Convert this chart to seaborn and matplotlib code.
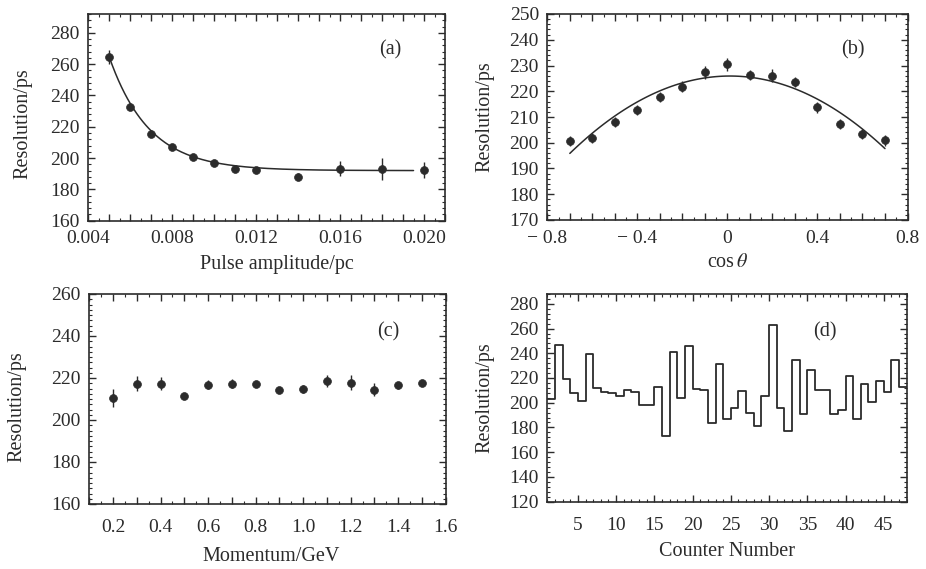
import numpy as np
import pandas as pd
import matplotlib
matplotlib.use("Agg")
import matplotlib.pyplot as plt
from matplotlib.ticker import MultipleLocator, FuncFormatter
import seaborn as sns

# ---------------- data ----------------
# (a) resolution vs pulse amplitude
amp_x = [0.005, 0.006, 0.007, 0.008, 0.009, 0.010, 0.011, 0.012, 0.014, 0.016, 0.018, 0.020]
amp_res = [264.5, 232.3, 215.5, 207.3, 200.9, 196.8, 193.3, 192.3, 188.2, 193.3, 193.3, 192.3]
amp_err = [4.5, 1.5, 1.2, 1.2, 1.2, 1.2, 1.2, 1.2, 2.0, 5.0, 7.0, 5.0]
# fitted curve (exponential + constant), parameters
amp_fit_const = 192.0
amp_fit_amp = 72.5
amp_fit_tau = 0.0019
amp_fit_x0 = 0.005
amp_fit_range = [0.005, 0.0195]

# (b) resolution vs cos(theta)
cos_x = [-0.7, -0.6, -0.5, -0.4, -0.3, -0.2, -0.1, 0.0, 0.1, 0.2, 0.3, 0.4, 0.5, 0.6, 0.7]
cos_res = [200.6, 201.9, 208.1, 212.8, 217.7, 221.8, 227.3, 230.4, 226.4, 226.0, 223.7, 213.7, 207.4, 203.5, 200.9]
cos_err = [2.0, 2.0, 2.0, 2.0, 2.0, 2.0, 2.5, 2.5, 2.0, 2.5, 2.0, 2.0, 2.0, 2.0, 2.0]

# (c) resolution vs momentum
mom_x = [0.2, 0.3, 0.4, 0.5, 0.6, 0.7, 0.8, 0.9, 1.0, 1.1, 1.2, 1.3, 1.4, 1.5]
mom_res = [210.5, 217.3, 217.3, 211.3, 216.9, 217.3, 217.1, 214.4, 214.8, 218.5, 217.7, 214.4, 216.5, 217.7]
mom_err = [4.5, 3.5, 3.0, 1.5, 2.0, 2.0, 1.5, 1.5, 2.0, 3.0, 3.5, 3.0, 1.5, 1.5]

# (d) resolution per counter
counter = list(range(1, 48))
counter_res = [203.0, 246.6, 218.8, 207.9, 201.6, 239.8, 212.0, 208.4, 207.5, 205.3,
               210.3, 208.9, 198.0, 198.0, 212.5, 173.4, 241.1, 203.8, 245.8, 211.1,
               210.6, 183.3, 231.6, 186.6, 196.1, 209.8, 192.0, 181.1, 205.7, 263.0,
               196.1, 177.0, 234.3, 191.2, 226.7, 210.3, 210.3, 190.6, 193.9, 221.5,
               186.6, 215.2, 200.2, 217.4, 208.4, 234.9, 213.0]

# ---------------- style ----------------
sns.set_theme(style="ticks")
ink = "#2b2b2b"
plt.rcParams.update({
    "font.family": ["Liberation Serif", "DejaVu Serif"],
    "mathtext.fontset": "stix",
    "font.size": 14,
    "text.color": ink,
    "axes.labelcolor": ink,
    "axes.edgecolor": ink,
    "axes.linewidth": 1.2,
    "xtick.color": ink,
    "ytick.color": ink,
    "xtick.labelsize": 14,
    "ytick.labelsize": 14,
    "xtick.direction": "in",
    "ytick.direction": "in",
    "xtick.top": True,
    "ytick.right": True,
    "xtick.major.size": 5,
    "ytick.major.size": 5,
    "xtick.minor.size": 2.5,
    "ytick.minor.size": 2.5,
    "xtick.major.width": 1.0,
    "ytick.major.width": 1.0,
    "xtick.minor.width": 0.8,
    "ytick.minor.width": 0.8,
    "axes.facecolor": "white",
    "figure.facecolor": "white",
})

fig = plt.figure(figsize=(9.26, 5.69), dpi=100)
W, H = 926.0, 569.0


def make_ax(l, r, t, b):
    return fig.add_axes([l / W, 1 - b / H, (r - l) / W, (b - t) / H])


ax_a = make_ax(88.3, 445.0, 14.0, 220.7)
ax_b = make_ax(547.3, 907.5, 14.0, 220.0)
ax_c = make_ax(89.3, 445.7, 294.0, 504.0)
ax_d = make_ax(547.3, 906.7, 294.0, 501.5)


def points(ax, x, y, err):
    ax.errorbar(x, y, yerr=err, fmt="none", ecolor=ink, elinewidth=1.0, capsize=0, zorder=2)
    sns.scatterplot(x=x, y=y, ax=ax, color=ink, s=32, edgecolor=ink, linewidth=0.5, zorder=3)


def finish(ax, xlabel, xlab_xy, ylab_xy, tag, tag_xy):
    ax.set_xlabel(xlabel, fontsize=14.5)
    ax.set_ylabel("Resolution/ps", fontsize=14.5)
    ax.xaxis.label.set_va("center")
    ax.yaxis.label.set_va("center")
    ax.xaxis.set_label_coords(*xlab_xy)
    ax.yaxis.set_label_coords(*ylab_xy)
    ax.text(tag_xy[0], tag_xy[1], tag, transform=ax.transAxes, ha="center", va="center", fontsize=14.5)
    ax.tick_params(which="both", top=True, right=True)
    ax.tick_params(axis="x", which="major", pad=7)
    ax.tick_params(axis="y", which="major", pad=6)
    for s in ax.spines.values():
        s.set_visible(True)


# ---- (a)
points(ax_a, amp_x, amp_res, amp_err)
fx = np.linspace(amp_fit_range[0], amp_fit_range[1], 300)
fy = amp_fit_const + amp_fit_amp * np.exp(-(fx - amp_fit_x0) / amp_fit_tau)
sns.lineplot(x=fx, y=fy, ax=ax_a, color=ink, linewidth=1.1, zorder=2)
ax_a.set_xlim(0.004, 0.021)
ax_a.set_ylim(160, 292)
ax_a.xaxis.set_major_locator(MultipleLocator(0.001))
ax_a.xaxis.set_minor_locator(MultipleLocator(0.0005))
ax_a.xaxis.set_major_formatter(FuncFormatter(
    lambda v, p: f"{v:.3f}" if abs(v / 0.004 - round(v / 0.004)) < 1e-6 else ""))
ax_a.yaxis.set_major_locator(MultipleLocator(20))
ax_a.yaxis.set_minor_locator(MultipleLocator(4))
finish(ax_a, "Pulse amplitude/pc", (0.529, -0.214), (-0.183, 0.47), "(a)", (0.846, 0.826))

# ---- (b)
sns.regplot(x=cos_x, y=cos_res, order=2, ci=None, scatter=False, ax=ax_b,
            line_kws={"color": ink, "linewidth": 1.1, "zorder": 2})
points(ax_b, cos_x, cos_res, cos_err)
ax_b.set_xlim(-0.8, 0.8)
ax_b.set_ylim(170, 250)
ax_b.xaxis.set_major_locator(MultipleLocator(0.1))
ax_b.xaxis.set_minor_locator(MultipleLocator(0.05))


def fmt_b(v, p):
    if abs(v / 0.4 - round(v / 0.4)) > 1e-6:
        return ""
    if abs(v) < 1e-9:
        return "0"
    return ("\u2212 " if v < 0 else "") + f"{abs(v):.1f}"


ax_b.xaxis.set_major_formatter(FuncFormatter(fmt_b))
ax_b.yaxis.set_major_locator(MultipleLocator(10))
ax_b.yaxis.set_minor_locator(MultipleLocator(2))
finish(ax_b, r"cos$\,\theta$", (0.501, -0.204), (-0.173, 0.5), "(b)", (0.848, 0.825))

# ---- (c)
points(ax_c, mom_x, mom_res, mom_err)
ax_c.set_xlim(0.1, 1.6)
ax_c.set_ylim(160, 260)
ax_c.xaxis.set_major_locator(MultipleLocator(0.1))
ax_c.xaxis.set_minor_locator(MultipleLocator(0.05))
ax_c.xaxis.set_major_formatter(FuncFormatter(
    lambda v, p: f"{v:.1f}" if abs(v / 0.2 - round(v / 0.2)) < 1e-6 else ""))
ax_c.yaxis.set_major_locator(MultipleLocator(20))
ax_c.yaxis.set_minor_locator(MultipleLocator(2.5))
finish(ax_c, "Momentum/GeV", (0.51, -0.252), (-0.203, 0.463), "(c)", (0.838, 0.82))
ax_c.tick_params(axis="x", which="major", pad=11)

# ---- (d)
df_d = pd.DataFrame({"counter": counter, "res": counter_res})
sns.histplot(data=df_d, x="counter", weights="res", binwidth=1, binrange=(1, 48),
             element="step", fill=False, color=ink, linewidth=1.3, ax=ax_d)
ax_d.set_xlim(1, 48)
ax_d.set_ylim(120, 288)
ax_d.xaxis.set_major_locator(MultipleLocator(5))
ax_d.xaxis.set_minor_locator(MultipleLocator(1))
ax_d.yaxis.set_major_locator(MultipleLocator(20))
ax_d.yaxis.set_minor_locator(MultipleLocator(4))
finish(ax_d, "Counter Number", (0.5, -0.242), (-0.173, 0.5), "(d)", (0.773, 0.818))
ax_d.tick_params(axis="x", which="major", pad=11)

fig.savefig("out.png", dpi=100)
